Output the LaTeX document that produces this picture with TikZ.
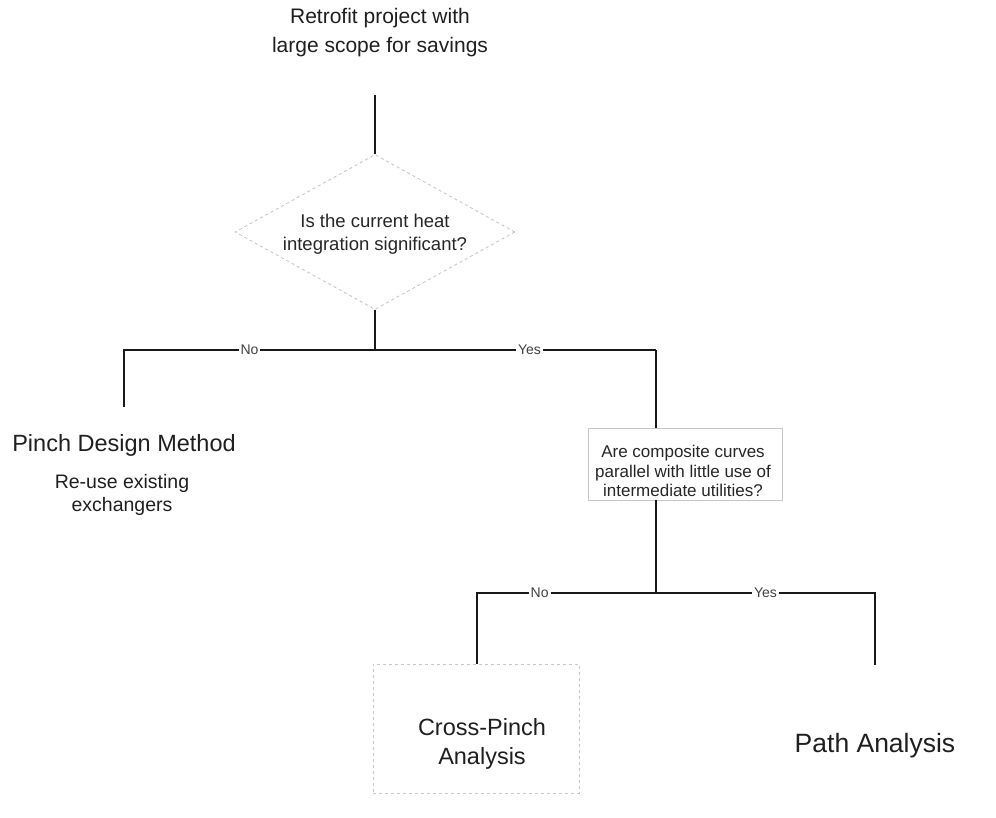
\documentclass[tikz,border=0pt]{standalone}
\usepackage{fontspec}
\setmainfont{Liberation Sans}
\usetikzlibrary{shapes.geometric}
\begin{document}
\begin{tikzpicture}[x=1pt,y=-1pt,
  conn/.style={line width=1.6pt, draw=black!90},
  faint/.style={draw=black!22, line width=0.9pt},
  lbl/.style={fill=white, inner sep=2pt, font=\fontsize{14}{16}\selectfont, text=black!75},
  bigtxt/.style={align=center, inner sep=0pt, text=black!88},
]
\useasboundingbox (0,0) rectangle (996,818);
% title
\node[bigtxt, font=\fontsize{21}{29}\selectfont] (title) at (380,33) {Retrofit project with\\large scope for savings};
\coordinate (t0) at (375,95);
% first decision
\node[diamond, faint, dashed, aspect=1.8, minimum width=280pt, minimum height=155pt, inner sep=0pt] (dec1) at (375,232) {};
\node[align=center, inner sep=0pt, font=\fontsize{18.5}{23}\selectfont, text=black!85] (dec1t) at (375,234)
      {Is the current heat\\integration significant?};
\draw[conn] (t0) -- (dec1.north);
\coordinate (j1) at (375,350);
\coordinate (l1) at (124,350);
\coordinate (r1) at (656,350);
\draw[conn] (dec1.south) -- (j1);
\coordinate (l1e) at (124,407);
\draw[conn] (l1e) -- (l1) -- node[lbl]{No} (j1) -- node[lbl, pos=0.55]{Yes} (r1);
% left outcome
\node[bigtxt, font=\fontsize{23.5}{25}\selectfont] (pdm) at (124,445) {Pinch Design Method};
\node[bigtxt, font=\fontsize{19.5}{23.5}\selectfont] (reuse) at (122,495) {Re-use existing\\exchangers};
% second decision
\node[faint, rectangle, minimum width=194pt, minimum height=72pt, inner sep=0pt] (dec2) at (685,464) {};
\node[align=center, inner sep=0pt, font=\fontsize{17}{19.5}\selectfont, text=black!85] (dec2t) at (683,471)
      {Are composite curves\\parallel with little use of\\intermediate utilities?};
\draw[conn] (r1) -- (r1 |- dec2.north);
\coordinate (j2) at (656,593);
\coordinate (l2) at (477,593);
\coordinate (r2) at (875,593);
\draw[conn] (dec2.south -| j2) -- (j2);
% outcomes
\node[faint, dashed, rectangle, minimum width=206pt, minimum height=129pt, inner sep=0pt] (cpbox) at (476,728.5) {};
\node[bigtxt, font=\fontsize{23.5}{29}\selectfont] (cp) at (482,744) {Cross-Pinch\\Analysis};
\node[bigtxt, font=\fontsize{26.5}{28}\selectfont] (pa) at (875,746) {Path Analysis};
\coordinate (r2e) at (875,665);
\draw[conn] (l2 |- cpbox.north) -- (l2) -- node[lbl, pos=0.35]{No} (j2) -- node[lbl, pos=0.5]{Yes} (r2) -- (r2e);
\end{tikzpicture}
\end{document}
